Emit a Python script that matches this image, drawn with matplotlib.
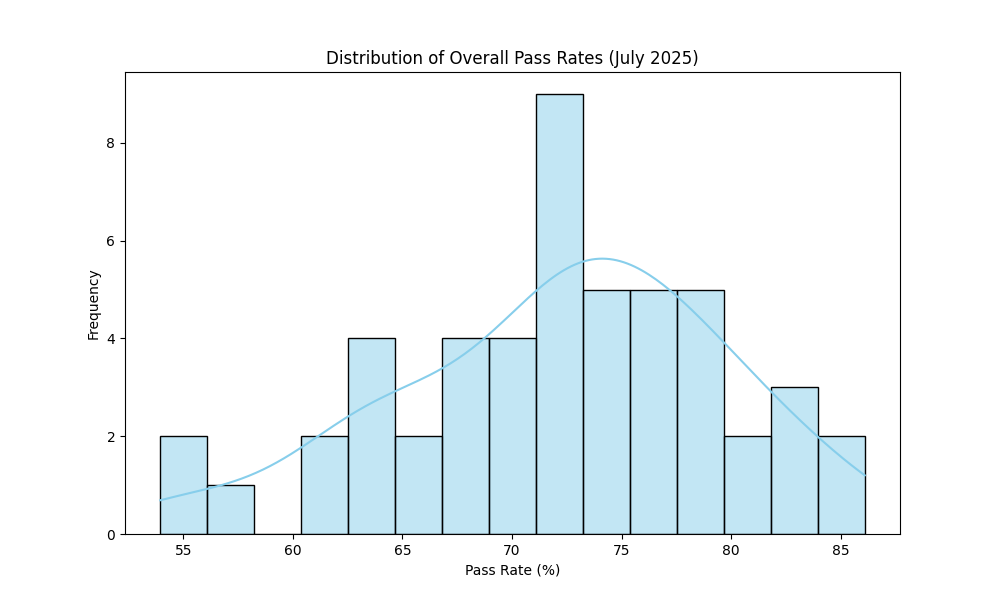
import matplotlib
matplotlib.use("Agg")
import matplotlib.pyplot as plt
import seaborn as sns

# pass rates (%) estimated from the histogram bins
pass_rates = [
  53.95, 55.2,
  57.5,
  61.8, 62.3,
  62.7, 63.0, 63.4, 63.8,
  64.9, 65.3,
  67.0, 67.3, 67.8, 68.4,
  69.6, 70.3, 70.7, 71.0,
  71.9, 72.2, 72.5, 72.7, 72.9, 73.0, 73.1, 73.15, 73.2,
  73.6, 74.2, 74.7, 75.0, 75.3,
  75.8, 76.3, 76.8, 77.2, 77.5,
  77.9, 78.2, 78.6, 79.0, 79.4,
  80.0, 80.8,
  82.0, 82.6, 83.2,
  84.5, 86.1,
]

fig, ax = plt.subplots(figsize=(10, 6), dpi=100)
sns.histplot(pass_rates, bins=15, kde=True, color='skyblue', edgecolor='black', ax=ax)
ax.set_title("Distribution of Overall Pass Rates (July 2025)")
ax.set_xlabel("Pass Rate (%)")
ax.set_ylabel("Frequency")
fig.savefig("out.png")
